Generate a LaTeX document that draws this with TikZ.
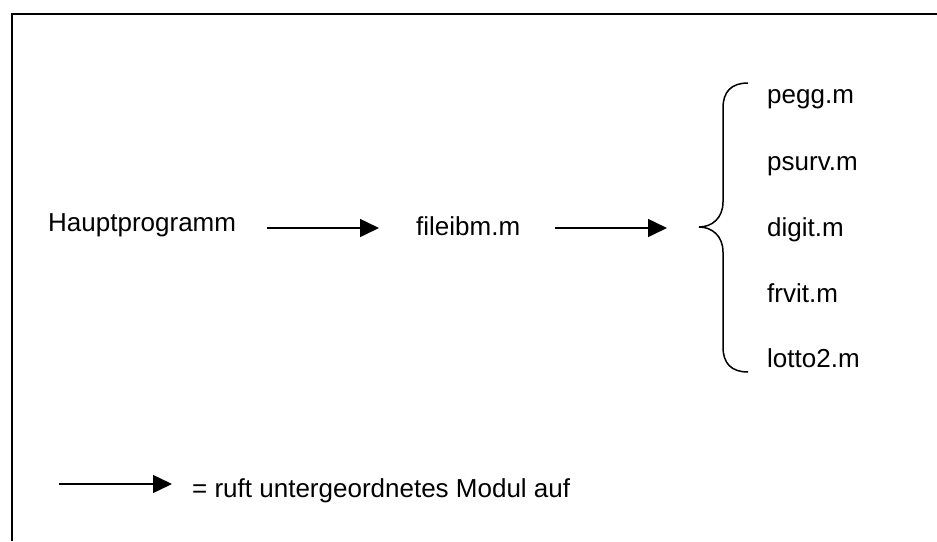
\documentclass[tikz,border=0pt]{standalone}
\usepackage{fontspec}
\setmainfont{Liberation Sans}
\usetikzlibrary{arrows.meta}
\begin{document}
\begin{tikzpicture}[x=1pt,y=-1pt,
  lbl/.style={inner sep=0pt,anchor=base west,font=\fontsize{26}{30}\selectfont},
  callarrow/.style={line width=1.5pt,-{Triangle[length=19pt,width=18pt]}},
  frameline/.style={line width=2pt},
  bracestyle/.style={line width=1.5pt}]
\useasboundingbox (0,0) rectangle (937,541);
% frame (top and left)
\draw[frameline] (12,541) -- (12,13.5) -- (937,13.5);
% nodes
\node[lbl] (hp) at (48,231) {Hauptprogramm};
\node[lbl] (fi) at (416,235) {fileibm.m};
\node[lbl] (m1) at (767,103) {pegg.m};
\node[lbl] (m2) at (767,170) {psurv.m};
\node[lbl] (m3) at (767,236) {digit.m};
\node[lbl] (m4) at (767,302) {frvit.m};
\node[lbl] (m5) at (767,367) {lotto2.m};
\node[lbl] (leg) at (192,497) {= ruft untergeordnetes Modul auf};
% arrow end points
\coordinate (a1s) at (267,228);
\coordinate (a1e) at (379,228);
\coordinate (a2s) at (555,228);
\coordinate (a2e) at (667,228);
\coordinate (l1s) at (59,484);
\coordinate (l1e) at (172,484);
\draw[callarrow] (a1s) -- (a1e);
\draw[callarrow] (a2s) -- (a2e);
\draw[callarrow] (l1s) -- (l1e);
% brace
\coordinate (btop) at (748,83);
\coordinate (btip) at (699,227);
\coordinate (bbot) at (748,372);
\draw[bracestyle] (btop) .. controls (731,83) and (723,92) .. (723,108)
  -- (723,202) .. controls (723,218) and (712,227) .. (btip)
  .. controls (712,227) and (723,236) .. (723,252)
  -- (723,347) .. controls (723,363) and (731,372) .. (bbot);
\end{tikzpicture}
\end{document}
